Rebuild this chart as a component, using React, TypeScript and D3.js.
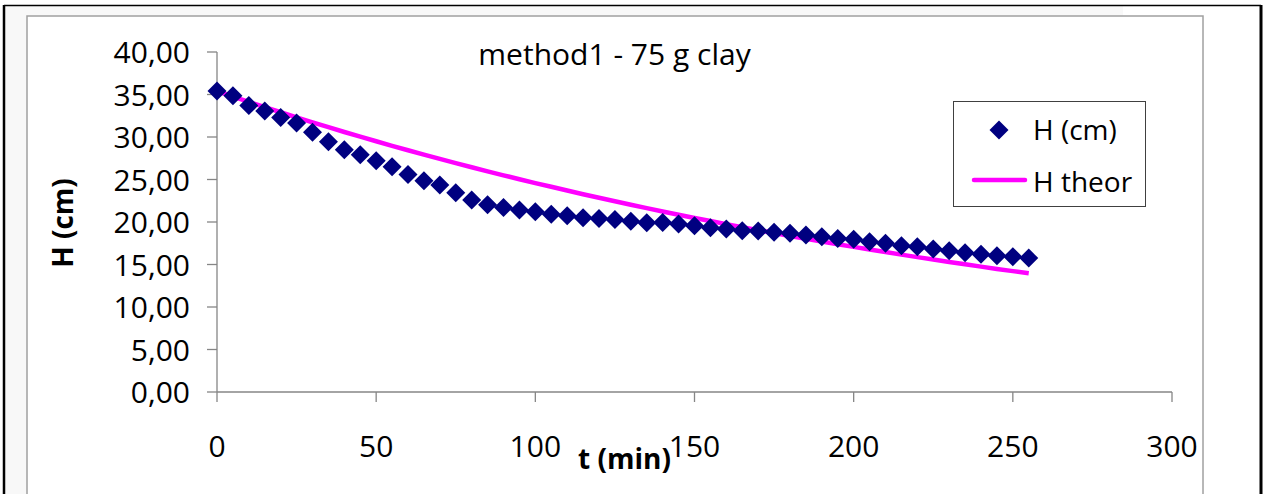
import React from 'react';
import * as d3 from 'd3';

const times = [
  0, 5, 10, 15, 20, 25, 30, 35, 40, 45, 50, 55, 60, 65, 70, 75, 80, 85, 90, 95,
  100, 105, 110, 115, 120, 125, 130, 135, 140, 145, 150, 155, 160, 165, 170, 175,
  180, 185, 190, 195, 200, 205, 210, 215, 220, 225, 230, 235, 240, 245, 250, 255,
];
const hMeasured = [
  35.4, 34.86, 33.7, 33.06, 32.3, 31.65, 30.55, 29.45, 28.5, 27.9, 27.2, 26.5, 25.6, 24.86, 24.35, 23.45, 22.6, 22.04, 21.7, 21.4,
  21.2, 20.9, 20.75, 20.5, 20.4, 20.3, 20.1, 19.9, 19.95, 19.76, 19.57, 19.33, 19.18, 18.98, 18.95, 18.78,
  18.67, 18.47, 18.27, 18.05, 17.96, 17.69, 17.49, 17.22, 17.1, 16.82, 16.63, 16.39, 16.2, 16.04, 15.92, 15.76,
];
const hTheory = [
  35.4, 34.76, 34.13, 33.51, 32.91, 32.31, 31.73, 31.16, 30.59, 30.04, 29.5, 28.96, 28.44, 27.93, 27.42, 26.93, 26.44, 25.96, 25.49, 25.03,
  24.58, 24.14, 23.7, 23.27, 22.85, 22.44, 22.03, 21.63, 21.24, 20.86, 20.48, 20.11, 19.75, 19.39, 19.04, 18.7,
  18.36, 18.03, 17.7, 17.38, 17.07, 16.76, 16.46, 16.16, 15.87, 15.58, 15.3, 15.02, 14.75, 14.48, 14.22, 13.96,
];
const xTicks = [0, 50, 100, 150, 200, 250, 300];
const yTicks = [0, 5, 10, 15, 20, 25, 30, 35, 40];
const title = 'method1 - 75 g clay';
const xLabel = 't (min)';
const yLabel = 'H (cm)';
const seriesNames = ['H (cm)', 'H theor'];

const W = 1270;
const H = 494;
const FONT = '"Open Sans", "Noto Sans", sans-serif';
const NAVY = '#000080';
const MAGENTA = '#FF00FF';
const AXIS = '#868686';

const diamond = (r: number) => `M0,${-r}L${r},0L0,${r}L${-r},0Z`;

export default function App() {
  const x = d3.scaleLinear().domain([0, 300]).range([217, 1172]);
  const y = d3.scaleLinear().domain([0, 40]).range([392, 52]);
  const fmt = (v: number) => d3.format('.2f')(v).replace('.', ',');

  const theoryPts = times.map((t, i) => [t, hTheory[i]] as [number, number]);
  const line = d3
    .line<[number, number]>()
    .x((d) => x(d[0]))
    .y((d) => y(d[1]));

  return (
    <svg
      width={W}
      height={H}
      style={{ position: 'absolute', left: 0, top: 0, background: '#fff' }}
      fontFamily={FONT}
    >
      <rect x={0} y={0} width={W} height={H} fill="#fff" />
      {/* outer light band */}
      <rect x={4} y={5} width={1119} height={11} fill="#f8f8f8" />
      <rect x={4} y={5} width={23} height={H} fill="#f8f8f8" />
      {/* outer black frame */}
      <line x1={4} y1={5.5} x2={1261} y2={5.5} stroke="#000" strokeWidth={1.5} />
      <line x1={4} y1={5} x2={4} y2={H} stroke="#000" strokeWidth={2.5} />
      <line x1={1261} y1={5} x2={1261} y2={H} stroke="#000" strokeWidth={3} />
      {/* inner chart area */}
      <rect x={27} y={16} width={1176} height={H} fill="#fff" stroke="#a0a0a0" strokeWidth={1.5} />

      {/* title */}
      <text x={614.5} y={65} textAnchor="middle" fontSize={30} fill="#000">
        {title}
      </text>

      {/* y axis */}
      <line x1={x(0)} y1={y(0)} x2={x(0)} y2={y(40)} stroke={AXIS} strokeWidth={1.3} />
      {yTicks.map((v) => (
        <g key={'y' + v}>
          <line x1={x(0) - 10} y1={y(v)} x2={x(0)} y2={y(v)} stroke={AXIS} strokeWidth={1.3} />
          <text x={190} y={y(v) + 11} textAnchor="end" fontSize={30} fill="#000">
            {fmt(v)}
          </text>
        </g>
      ))}

      {/* x axis */}
      <line x1={x(0)} y1={y(0)} x2={x(300)} y2={y(0)} stroke={AXIS} strokeWidth={1.3} />
      {xTicks.map((v) => (
        <g key={'x' + v}>
          <line x1={x(v)} y1={y(0)} x2={x(v)} y2={y(0) + 10} stroke={AXIS} strokeWidth={1.3} />
          <text x={x(v)} y={456.5} textAnchor="middle" fontSize={30} fill="#000">
            {v}
          </text>
        </g>
      ))}

      {/* axis titles */}
      <text x={624.5} y={469} textAnchor="middle" fontSize={28} fontWeight="bold" fill="#000">
        {xLabel}
      </text>
      <text
        transform={`translate(73,223) rotate(-90)`}
        textAnchor="middle"
        fontSize={28}
        fontWeight="bold"
        fill="#000"
      >
        {yLabel}
      </text>

      {/* theory line */}
      <path d={line(theoryPts) || ''} fill="none" stroke={MAGENTA} strokeWidth={4.5} strokeLinejoin="round" />

      {/* measured diamonds */}
      {times.map((t, i) => (
        <path key={'m' + t} d={diamond(9.5)} transform={`translate(${x(t)},${y(hMeasured[i])})`} fill={NAVY} />
      ))}

      {/* legend */}
      <rect x={953.5} y={101.5} width={192} height={105} fill="#fff" stroke="#404040" strokeWidth={1} />
      <path d={diamond(9.5)} transform="translate(999,130)" fill={NAVY} />
      <text x={1033} y={140} fontSize={28} fill="#000">
        {seriesNames[0]}
      </text>
      <line x1={974} y1={180} x2={1025} y2={180} stroke={MAGENTA} strokeWidth={4.5} strokeLinecap="round" />
      <text x={1033} y={191.5} fontSize={28} fill="#000">
        {seriesNames[1]}
      </text>
    </svg>
  );
}
